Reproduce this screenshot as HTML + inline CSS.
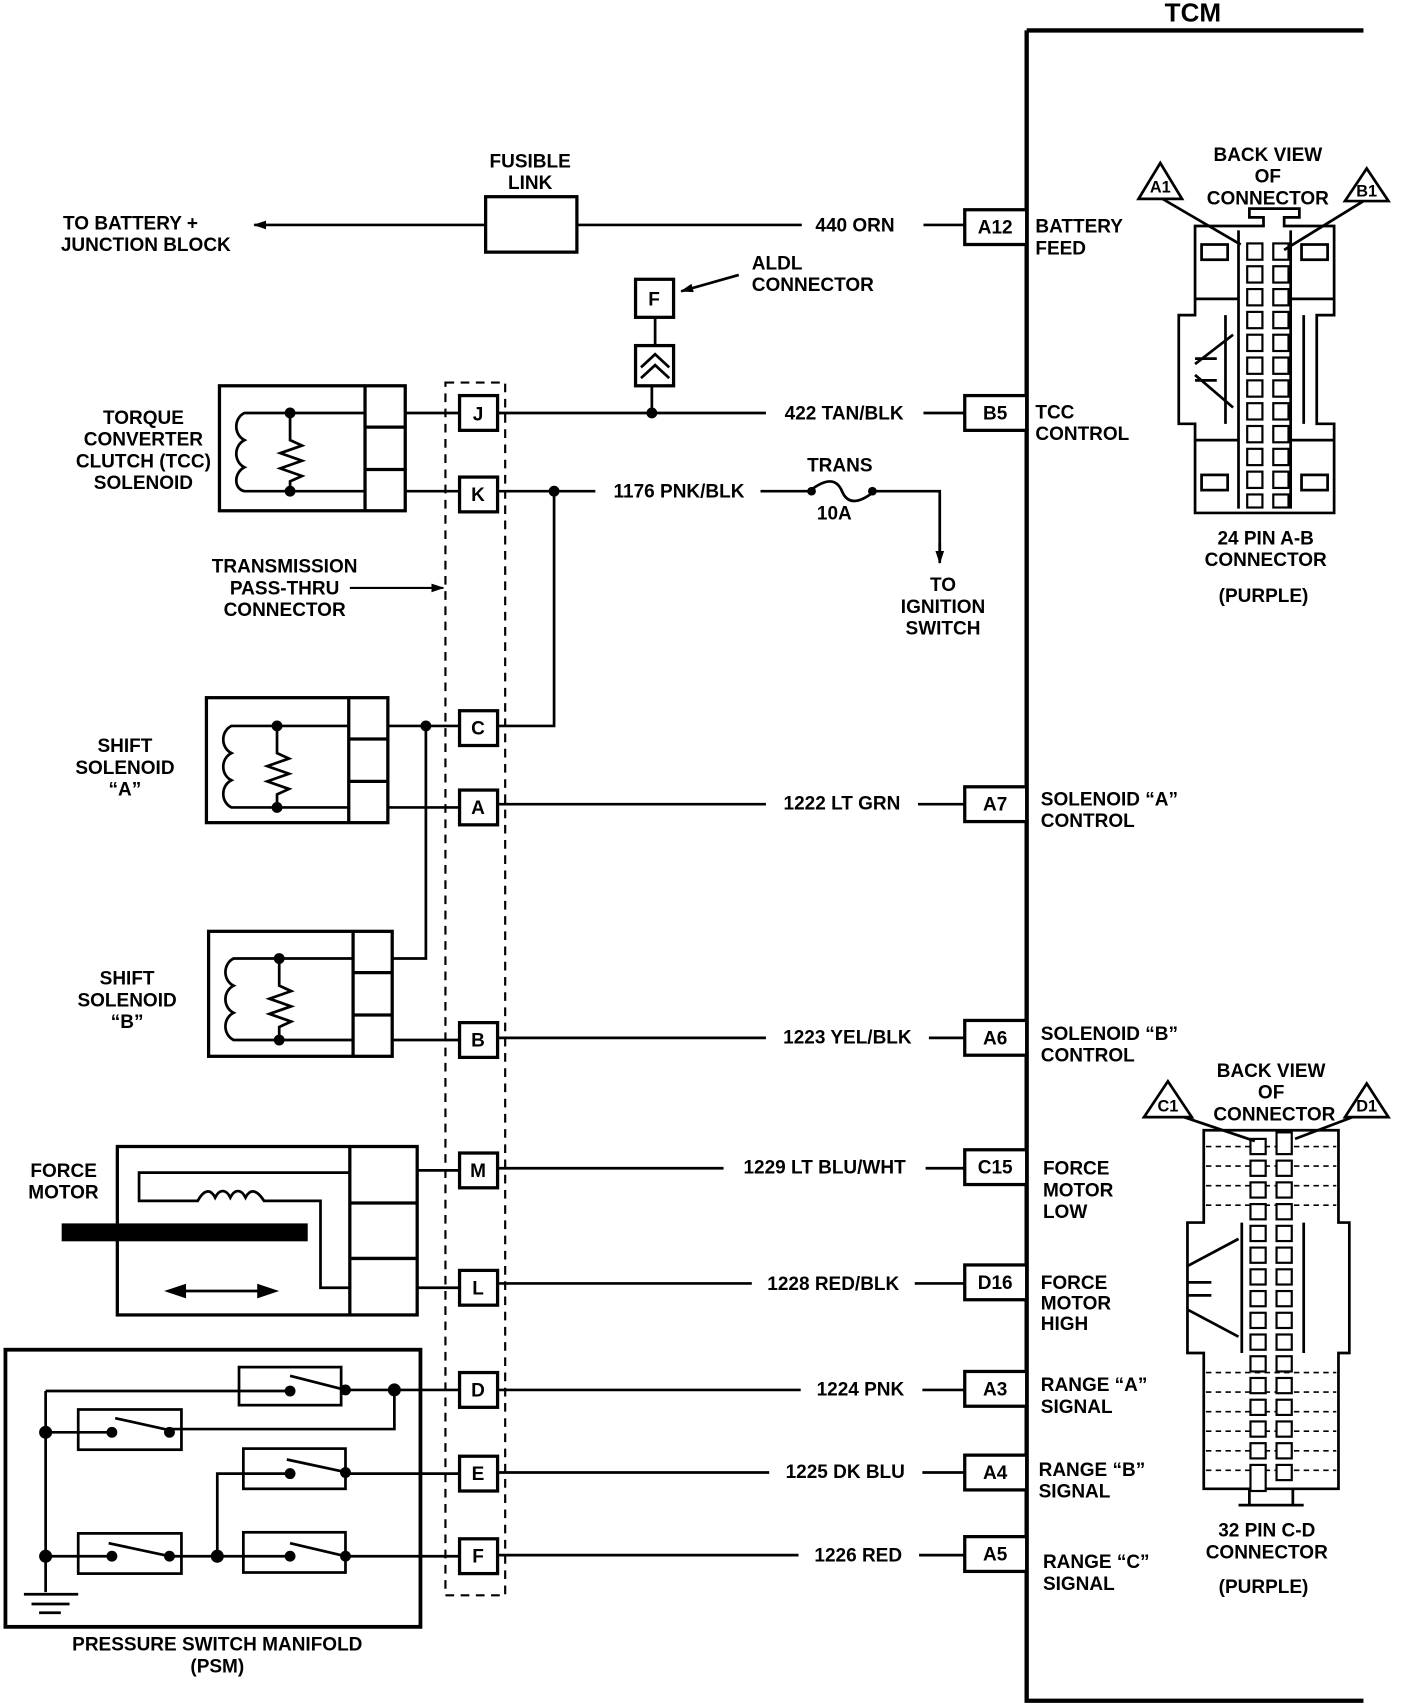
<!DOCTYPE html>
<html><head><meta charset="utf-8"><style>
html,body{margin:0;padding:0;background:#fff}
svg{display:block}
text{font-family:"Liberation Sans",sans-serif;font-weight:bold;font-size:17.5px;fill:#000}
</style></head><body>
<svg width="1408" height="1704" viewBox="0 0 1296 1568" preserveAspectRatio="none" xmlns="http://www.w3.org/2000/svg">
<defs>
<marker id="ar" markerWidth="12" markerHeight="8" refX="11" refY="4" orient="auto" markerUnits="userSpaceOnUse"><path d="M0,0 L12,4 L0,8 Z" fill="#000"/></marker>
</defs>
<g stroke="#000" fill="none" stroke-width="2.5">
<path d="M945,28 H1255 M945,28 V1565 H1255" stroke-width="4"/>
<g stroke-width="3" fill="#fff">
<rect x="888" y="193" width="57" height="32"/>
<rect x="888" y="364" width="57" height="32"/>
<rect x="888" y="724" width="57" height="32"/>
<rect x="888" y="939" width="57" height="32"/>
<rect x="888" y="1058" width="57" height="32"/>
<rect x="888" y="1164" width="57" height="32"/>
<rect x="888" y="1262" width="57" height="32"/>
<rect x="888" y="1339" width="57" height="32"/>
<rect x="888" y="1414" width="57" height="32"/>
</g>
<rect x="447" y="181" width="84" height="51" stroke-width="3"/>
<path d="M447,207 H234" marker-end="url(#ar)"/>
<path d="M531,207 H738 M850,207 H888"/>
<rect x="410" y="352" width="55" height="1116" stroke-dasharray="8,6" stroke-width="2"/>
<g stroke-width="3" fill="#fff">
<rect x="423" y="364" width="35" height="32"/>
<rect x="423" y="439" width="35" height="32"/>
<rect x="423" y="654" width="35" height="32"/>
<rect x="423" y="727" width="35" height="32"/>
<rect x="423" y="941" width="35" height="32"/>
<rect x="423" y="1061" width="35" height="32"/>
<rect x="423" y="1169" width="35" height="32"/>
<rect x="423" y="1263" width="35" height="32"/>
<rect x="423" y="1340" width="35" height="32"/>
<rect x="423" y="1416" width="35" height="32"/>
</g>
<path d="M458,380 H705 M850,380 H888"/>
<path d="M600,380 V355 M603,292 V318"/>
<rect x="585" y="318" width="35" height="37" stroke-width="3"/>
<path d="M590,338 L603,326 L616,338 M590,348 L603,336 L616,348" stroke-width="2.5"/>
<rect x="585" y="257" width="35" height="35" stroke-width="3"/>
<path d="M680,253 L627,268" marker-end="url(#ar)"/>
<path d="M458,452 H548 M700,452 H745 M805,452 H865 V515" />
<path d="M865,500 V518" marker-end="url(#ar)"/>
<path d="M745,452 C760,440 770,440 775,452 C780,464 790,464 805,452" stroke-width="2.5"/>
<path d="M510,452 V668 H458"/>
<rect x="202" y="355" width="171" height="115" stroke-width="3"/>
<path d="M336,355 V470 M336,393 H373 M336,432 H373" stroke-width="3"/>
<path d="M373,380 H423 M373,452 H423"/>
<path d="M336,380 H225 C215,385 215,400 225,405 C215,410 215,425 225,430 C215,435 215,450 225,452 H336"/>
<path d="M267,380 V405 L278,410 L258,417 L278,424 L258,431 L278,438 L267,443 V452"/>
<rect x="190" y="642" width="167" height="115" stroke-width="3"/>
<path d="M321,642 V757 M321,680 H357 M321,719 H357" stroke-width="3"/>
<path d="M357,668 H423 M357,743 H423 M392,668 V882 H361"/>
<path d="M321,668 H213 C203,673 203,688 213,693 C203,698 203,713 213,718 C203,723 203,738 213,743 H321"/>
<path d="M255,668 V693 L266,698 L246,705 L266,712 L246,719 L266,726 L255,731 V743"/>
<rect x="192" y="857" width="169" height="115" stroke-width="3"/>
<path d="M325,857 V972 M325,895 H361 M325,934 H361" stroke-width="3"/>
<path d="M361,957 H423"/>
<path d="M325,882 H215 C205,887 205,902 215,907 C205,912 205,927 215,932 C205,937 205,952 215,957 H325"/>
<path d="M257,882 V907 L268,912 L248,919 L268,926 L248,933 L268,940 L257,945 V957"/>
<path d="M458,740 H705 M845,740 H888"/>
<path d="M458,955 H705 M855,955 H888"/>
<path d="M458,1075 H666 M852,1075 H888"/>
<path d="M458,1181 H692 M842,1181 H888"/>
<path d="M458,1279 H737 M849,1279 H888"/>
<path d="M458,1355 H708 M849,1355 H888"/>
<path d="M458,1431 H735 M846,1431 H888"/>
<rect x="108" y="1055" width="276" height="155" stroke-width="3"/>
<path d="M322,1055 V1210 M322,1107 H384 M322,1158 H384" stroke-width="3"/>
<path d="M384,1077 H423 M384,1185 H423"/>
<path d="M322,1079 H128 V1105 H182 C188,1094 194,1094 198,1102 C202,1094 208,1094 212,1102 C216,1094 222,1094 226,1102 C230,1094 236,1094 243,1105 H295 V1185 H322"/>
<rect x="58" y="1127" width="224" height="14" fill="#000"/>
<path d="M165,1188 H245" />
<path d="M155,1188 L170,1183 L170,1193 Z M253,1188 L238,1183 L238,1193 Z" fill="#000"/>
<rect x="5" y="1242" width="382" height="255" stroke-width="3.5"/>
<g stroke-width="2.5">
<rect x="220" y="1258" width="94" height="35"/>
<rect x="72" y="1297" width="95" height="37"/>
<rect x="224" y="1333" width="94" height="37"/>
<rect x="72" y="1411" width="95" height="37"/>
<rect x="224" y="1410" width="94" height="37"/>
</g>
<path d="M42,1280 V1465 M42,1280 H265 M320,1279 H423 M363,1279 V1315 H156 M42,1318 H103 M42,1432 H103 M156,1432 H265 M320,1432 H423 M200,1432 V1356 H265 M320,1356 H423"/>
<path d="M267,1266 L318,1279 M106,1305 L156,1316 M264,1343 L320,1355 M100,1420 L156,1432 M267,1420 L318,1432"/>
<path d="M22,1467 H72 M29,1476 H64 M36,1484 H56" stroke-width="2.5"/>
<g stroke-width="2.5">
<path d="M1100,208 V290 H1085 V390 H1100 V472 H1228 V390 H1212 V290 H1228 V208 H1182 V200 H1196 V192 H1150 V200 H1163 V208 Z"/>
<path d="M1140,212 V468 M1188,212 V468 M1100,275 H1140 M1188,275 H1228 M1100,405 H1140 M1188,405 H1228 M1128,290 V390 M1200,290 V390"/>
<rect x="1106" y="225" width="24" height="14"/>
<rect x="1198" y="225" width="24" height="14"/>
<rect x="1106" y="437" width="24" height="14"/>
<rect x="1198" y="437" width="24" height="14"/>
<path d="M1100,335 L1135,308 M1100,345 L1135,375 M1100,330 H1120 M1100,350 H1120"/>
</g>
<g stroke-width="2">
<rect x="1148" y="224" width="14" height="15"/><rect x="1172" y="224" width="14" height="15"/>
<rect x="1148" y="245" width="14" height="15"/><rect x="1172" y="245" width="14" height="15"/>
<rect x="1148" y="266" width="14" height="15"/><rect x="1172" y="266" width="14" height="15"/>
<rect x="1148" y="287" width="14" height="15"/><rect x="1172" y="287" width="14" height="15"/>
<rect x="1148" y="308" width="14" height="15"/><rect x="1172" y="308" width="14" height="15"/>
<rect x="1148" y="329" width="14" height="15"/><rect x="1172" y="329" width="14" height="15"/>
<rect x="1148" y="350" width="14" height="15"/><rect x="1172" y="350" width="14" height="15"/>
<rect x="1148" y="371" width="14" height="15"/><rect x="1172" y="371" width="14" height="15"/>
<rect x="1148" y="392" width="14" height="15"/><rect x="1172" y="392" width="14" height="15"/>
<rect x="1148" y="413" width="14" height="15"/><rect x="1172" y="413" width="14" height="15"/>
<rect x="1148" y="434" width="14" height="15"/><rect x="1172" y="434" width="14" height="15"/>
<rect x="1148" y="455" width="14" height="12"/><rect x="1172" y="455" width="14" height="12"/>
</g>
<path d="M1048,183 L1068,150 L1088,183 Z M1238,185 L1258,155 L1278,185 Z"/>
<path d="M1070,183 L1142,225 M1255,185 L1182,230"/>
<g stroke-width="2.5">
<path d="M1108,1040 H1232 V1125 H1242 V1245 H1232 V1370 H1108 V1245 H1093 V1125 H1108 Z"/>
<path d="M1143,1125 V1245 M1200,1125 V1245 M1150,1370 V1385 H1190 V1370 M1140,1385 H1200"/>
<path d="M1093,1165 L1140,1140 M1093,1205 L1140,1230 M1093,1180 H1115 M1093,1192 H1115"/>
</g>
<g stroke-width="1.5" stroke-dasharray="5,4">
<path d="M1110,1055 H1230 M1110,1073 H1230 M1110,1091 H1230 M1110,1109 H1230 M1110,1263 H1230 M1110,1281 H1230 M1110,1299 H1230 M1110,1317 H1230 M1110,1335 H1230 M1110,1353 H1230"/>
</g>
<g stroke-width="2" fill="#fff">
<rect x="1151" y="1048" width="14" height="14"/><rect x="1175" y="1042" width="14" height="20"/>
<rect x="1151" y="1068" width="14" height="14"/><rect x="1175" y="1068" width="14" height="14"/>
<rect x="1151" y="1088" width="14" height="14"/><rect x="1175" y="1088" width="14" height="14"/>
<rect x="1151" y="1108" width="14" height="14"/><rect x="1175" y="1108" width="14" height="14"/>
<rect x="1151" y="1128" width="14" height="14"/><rect x="1175" y="1128" width="14" height="14"/>
<rect x="1151" y="1148" width="14" height="14"/><rect x="1175" y="1148" width="14" height="14"/>
<rect x="1151" y="1168" width="14" height="14"/><rect x="1175" y="1168" width="14" height="14"/>
<rect x="1151" y="1188" width="14" height="14"/><rect x="1175" y="1188" width="14" height="14"/>
<rect x="1151" y="1208" width="14" height="14"/><rect x="1175" y="1208" width="14" height="14"/>
<rect x="1151" y="1228" width="14" height="14"/><rect x="1175" y="1228" width="14" height="14"/>
<rect x="1151" y="1248" width="14" height="14"/><rect x="1175" y="1248" width="14" height="14"/>
<rect x="1151" y="1268" width="14" height="14"/><rect x="1175" y="1268" width="14" height="14"/>
<rect x="1151" y="1288" width="14" height="14"/><rect x="1175" y="1288" width="14" height="14"/>
<rect x="1151" y="1308" width="14" height="14"/><rect x="1175" y="1308" width="14" height="14"/>
<rect x="1151" y="1328" width="14" height="14"/><rect x="1175" y="1328" width="14" height="14"/>
<rect x="1151" y="1348" width="14" height="24"/><rect x="1175" y="1348" width="14" height="14"/>
</g>
<path d="M1053,1028 L1075,995 L1097,1028 Z M1238,1028 L1258,997 L1278,1028 Z"/>
<path d="M1090,1028 L1155,1050 M1245,1028 L1192,1048"/>
</g>
<g fill="#000">
<circle cx="600" cy="380" r="5"/><circle cx="510" cy="452" r="5"/>
<circle cx="747" cy="452" r="4"/><circle cx="803" cy="452" r="4"/>
<circle cx="267" cy="380" r="5"/><circle cx="267" cy="452" r="5"/>
<circle cx="392" cy="668" r="5"/><circle cx="255" cy="668" r="5"/><circle cx="255" cy="743" r="5"/>
<circle cx="257" cy="882" r="5"/><circle cx="257" cy="957" r="5"/>
<circle cx="363" cy="1279" r="6"/><circle cx="42" cy="1318" r="6"/><circle cx="42" cy="1432" r="6"/><circle cx="200" cy="1432" r="6"/>
<circle cx="267" cy="1280" r="5"/><circle cx="318" cy="1279" r="5"/>
<circle cx="103" cy="1318" r="5"/><circle cx="156" cy="1318" r="5"/>
<circle cx="267" cy="1356" r="5"/><circle cx="318" cy="1355" r="5"/>
<circle cx="103" cy="1432" r="5"/><circle cx="156" cy="1432" r="5"/>
<circle cx="267" cy="1432" r="5"/><circle cx="318" cy="1432" r="5"/>
</g>
<text x="1098" y="20" text-anchor="middle" style="font-size:24px">TCM</text>
<g text-anchor="middle">
<text x="916" y="215">A12</text><text x="916" y="386">B5</text><text x="916" y="746">A7</text>
<text x="916" y="961">A6</text><text x="916" y="1080">C15</text><text x="916" y="1186">D16</text>
<text x="916" y="1284">A3</text><text x="916" y="1361">A4</text><text x="916" y="1436">A5</text>
<text x="440" y="387">J</text><text x="440" y="461">K</text><text x="440" y="676">C</text>
<text x="440" y="749">A</text><text x="440" y="963">B</text><text x="440" y="1083">M</text>
<text x="440" y="1191">L</text><text x="440" y="1285">D</text><text x="440" y="1362">E</text><text x="440" y="1438">F</text>
<text x="602" y="281">F</text>
<text x="787" y="213">440 ORN</text>
<text x="777" y="386">422 TAN/BLK</text>
<text x="625" y="458">1176 PNK/BLK</text>
<text x="775" y="745">1222 LT GRN</text>
<text x="780" y="960">1223 YEL/BLK</text>
<text x="759" y="1080">1229 LT BLU/WHT</text>
<text x="767" y="1187">1228 RED/BLK</text>
<text x="792" y="1284">1224 PNK</text>
<text x="778" y="1360">1225 DK BLU</text>
<text x="790" y="1437">1226 RED</text>
<text x="773" y="434">TRANS</text><text x="768" y="478">10A</text>
<text x="868" y="544">TO</text><text x="868" y="564">IGNITION</text><text x="868" y="584">SWITCH</text>
<text x="488" y="154">FUSIBLE</text><text x="488" y="174">LINK</text>
<text x="132" y="390">TORQUE</text><text x="132" y="410">CONVERTER</text><text x="132" y="430">CLUTCH (TCC)</text><text x="132" y="450">SOLENOID</text>
<text x="262" y="527">TRANSMISSION</text><text x="262" y="547">PASS-THRU</text><text x="262" y="567">CONNECTOR</text>
<text x="115" y="692">SHIFT</text><text x="115" y="712">SOLENOID</text><text x="115" y="732">“A”</text>
<text x="117" y="906">SHIFT</text><text x="117" y="926">SOLENOID</text><text x="117" y="946">“B”</text>
<text x="200" y="1519">PRESSURE SWITCH MANIFOLD</text><text x="200" y="1539">(PSM)</text>
<text x="1167" y="148">BACK VIEW</text><text x="1167" y="168">OF</text><text x="1167" y="188">CONNECTOR</text>
<text x="1165" y="501">24 PIN  A-B</text><text x="1165" y="521">CONNECTOR</text><text x="1163" y="554">(PURPLE)</text>
<text x="1170" y="991">BACK VIEW</text><text x="1170" y="1011">OF</text><text x="1173" y="1031">CONNECTOR</text>
<text x="1166" y="1414">32  PIN C-D</text><text x="1166" y="1434">CONNECTOR</text><text x="1163" y="1466">(PURPLE)</text>
<text x="1068" y="177" style="font-size:15px">A1</text><text x="1258" y="181" style="font-size:15px">B1</text>
<text x="1075" y="1023" style="font-size:15px">C1</text><text x="1258" y="1023" style="font-size:15px">D1</text>
</g>
<path d="M322,541 H408" stroke="#000" stroke-width="2" marker-end="url(#ar)"/>
<text x="58" y="211">TO BATTERY +</text><text x="56" y="231">JUNCTION BLOCK</text>
<text x="692" y="248">ALDL</text><text x="692" y="268">CONNECTOR</text>
<text x="28" y="1083">FORCE</text><text x="26" y="1103">MOTOR</text>
<text x="953" y="214">BATTERY</text><text x="953" y="234">FEED</text>
<text x="953" y="385">TCC</text><text x="953" y="405">CONTROL</text>
<text x="958" y="741">SOLENOID “A”</text><text x="958" y="761">CONTROL</text>
<text x="958" y="957">SOLENOID “B”</text><text x="958" y="977">CONTROL</text>
<text x="960" y="1081">FORCE</text><text x="960" y="1101">MOTOR</text><text x="960" y="1121">LOW</text>
<text x="958" y="1186">FORCE</text><text x="958" y="1205">MOTOR</text><text x="958" y="1224">HIGH</text>
<text x="958" y="1280">RANGE “A”</text><text x="958" y="1300">SIGNAL</text>
<text x="956" y="1358">RANGE “B”</text><text x="956" y="1378">SIGNAL</text>
<text x="960" y="1443">RANGE “C”</text><text x="960" y="1463">SIGNAL</text>
</svg>
</body></html>
